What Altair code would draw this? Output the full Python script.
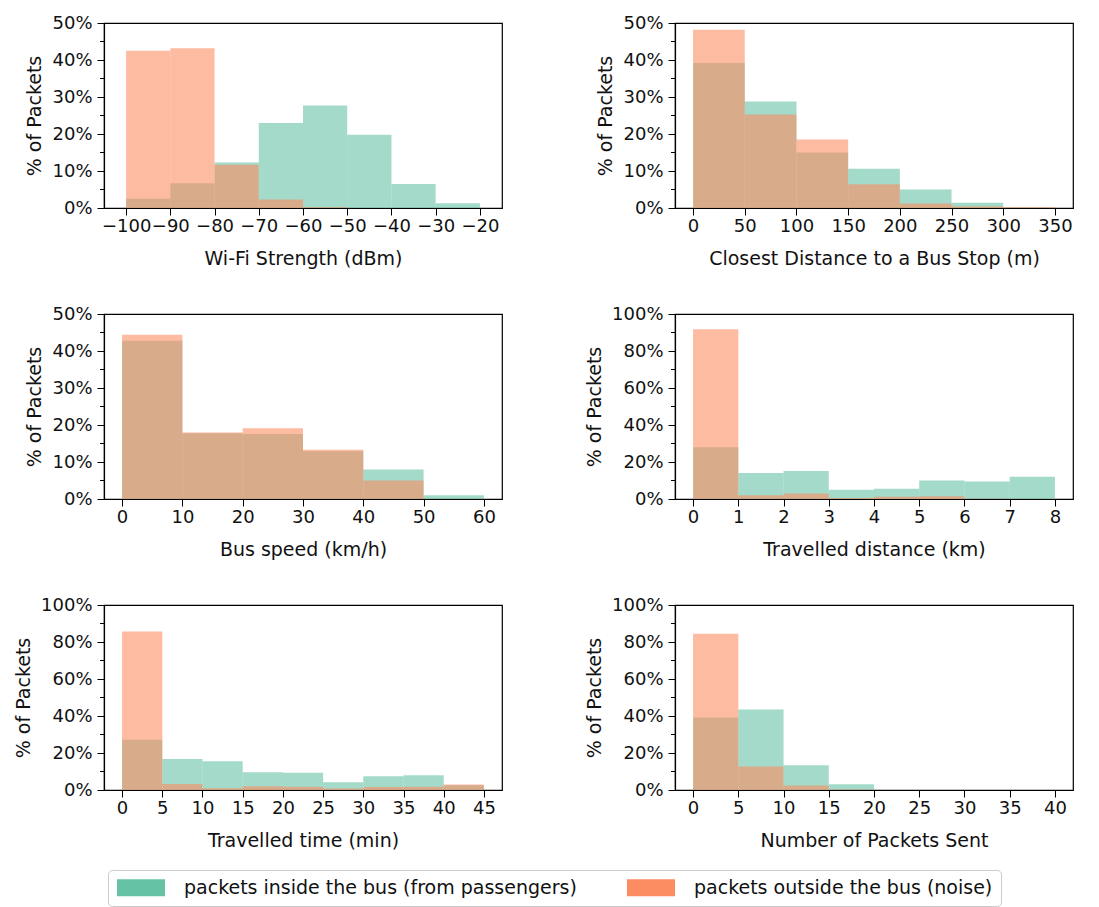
import altair as alt
import pandas as pd

GROUPS = ["packets inside the bus (from passengers)", "packets outside the bus (noise)"]
COLORS = ["#66c2a5", "#fc8d62"]

TITLES = [
    "Wi-Fi Strength (dBm)",
    "Closest Distance to a Bus Stop (m)",
    "Bus speed (km/h)",
    "Travelled distance (km)",
    "Travelled time (min)",
    "Number of Packets Sent",
]

WIFI_EDGES = [-100, -90, -80, -70, -60, -50, -40, -30, -20]
WIFI_IN = [2.5, 6.7, 12.3, 23.0, 27.7, 19.8, 6.5, 1.3]
WIFI_OUT = [42.5, 43.2, 11.7, 2.3, 0.2, 0.0, 0.0, 0.0]

STOP_EDGES = [0, 50, 100, 150, 200, 250, 300, 350]
STOP_IN = [39.2, 28.8, 15.0, 10.6, 5.0, 1.4, 0.1]
STOP_OUT = [48.2, 25.3, 18.5, 6.4, 1.2, 0.4, 0.2]

SPEED_EDGES = [0, 10, 20, 30, 40, 50, 60]
SPEED_IN = [42.8, 17.8, 17.6, 12.9, 8.0, 1.0]
SPEED_OUT = [44.4, 18.0, 19.1, 13.3, 5.0, 0.0]

DIST_EDGES = [0, 1, 2, 3, 4, 5, 6, 7, 8]
DIST_IN = [28.0, 14.0, 15.2, 5.0, 5.5, 10.0, 9.5, 12.0]
DIST_OUT = [91.8, 2.0, 3.0, 0.6, 1.2, 1.5, 0.2, 0.0]

TIME_EDGES = [0, 5, 10, 15, 20, 25, 30, 35, 40, 45]
TIME_IN = [27.2, 16.8, 15.5, 9.6, 9.3, 4.2, 7.4, 8.0, 2.6]
TIME_OUT = [85.7, 3.2, 1.0, 2.0, 1.7, 0.8, 1.6, 1.8, 3.0]

PKT_EDGES = [0, 5, 10, 15, 20, 25, 30, 35, 40]
PKT_IN = [39.2, 43.5, 13.4, 3.1, 0.0, 0.0, 0.0, 0.0]
PKT_OUT = [84.5, 12.7, 2.5, 0.3, 0.0, 0.0, 0.0, 0.0]

Y_MAX = [50, 50, 50, 100, 100, 100]

PANELS = [
    (WIFI_EDGES, WIFI_IN, WIFI_OUT),
    (STOP_EDGES, STOP_IN, STOP_OUT),
    (SPEED_EDGES, SPEED_IN, SPEED_OUT),
    (DIST_EDGES, DIST_IN, DIST_OUT),
    (TIME_EDGES, TIME_IN, TIME_OUT),
    (PKT_EDGES, PKT_IN, PKT_OUT),
]

FONT = "DejaVu Sans"
W, H = 398, 185


def panel(i):
    edges, vin, vout = PANELS[i]
    rows = []
    for g, vals in zip(GROUPS, [vin, vout]):
        for k, v in enumerate(vals):
            rows.append({"start": edges[k], "end": edges[k + 1], "value": v, "group": g})
    df = pd.DataFrame(rows)
    span = edges[-1] - edges[0]
    pad = 0.0625 if i == 0 else 0.05
    dom = [edges[0] - pad * span, edges[-1] + pad * span]
    ymax = Y_MAX[i]
    major = ymax // 5
    majors = list(range(0, ymax + 1, major))
    minors = list(range(major // 2, ymax, major))

    xs = alt.Scale(domain=dom, nice=False, zero=False)
    ys = alt.Scale(domain=[0, ymax], nice=False)
    yaxis = alt.Axis(values=majors, labelExpr="datum.value + '%'",
                     title="% of Packets")

    bars = alt.Chart(df).mark_rect(opacity=0.6, strokeWidth=0).encode(
        x=alt.X("start:Q", scale=xs,
                axis=alt.Axis(values=edges, format="d", title=TITLES[i])),
        x2="end:Q",
        y=alt.Y("value:Q", stack=None, scale=ys, axis=yaxis),
        y2=alt.datum(0),
        color=alt.Color("group:N",
                        scale=alt.Scale(domain=GROUPS, range=COLORS),
                        legend=alt.Legend(title=None)),
    )
    minor_df = pd.DataFrame({"m": minors})
    ticks = alt.Chart(minor_df).mark_rule(color="black", strokeWidth=1).encode(
        y=alt.Y("m:Q", scale=ys, axis=yaxis, title="% of Packets"),
        x=alt.value(-4),
        x2=alt.value(0),
    )
    return alt.layer(bars, ticks).properties(width=W, height=H)


chart = alt.concat(*[panel(i) for i in range(6)], columns=2,
                   spacing={"row": 35, "column": 81}).configure(
    font=FONT,
    padding={"left": 5, "top": 5, "right": 5, "bottom": 5},
).configure_view(
    stroke="black", strokeWidth=1.2
).configure_axis(
    labelFont=FONT, titleFont=FONT, labelFontSize=18, titleFontSize=19,
    labelColor="#111", titleColor="#111", titleFontWeight="normal",
    domainColor="black", tickColor="black", tickSize=7, grid=False,
    domainWidth=1.2, labelOverlap=False,
).configure_axisX(
    labelPadding=2, titlePadding=14,
).configure_axisY(
    labelPadding=5, titlePadding=7,
).configure_legend(
    orient="none", legendX=4, legendY=847, direction="horizontal",
    labelFont=FONT, labelFontSize=19, labelColor="#111", labelOffset=49,
    labelLimit=1000,
    symbolType="M-1,-1H4.647V1H-1Z", symbolSize=289, symbolStrokeWidth=0,
    symbolOpacity=1, columnPadding=49, padding=8,
    strokeColor="#cccccc", cornerRadius=4, fillColor="white",
)

chart.save("out.html", embed_options={"renderer": "svg", "actions": False})
